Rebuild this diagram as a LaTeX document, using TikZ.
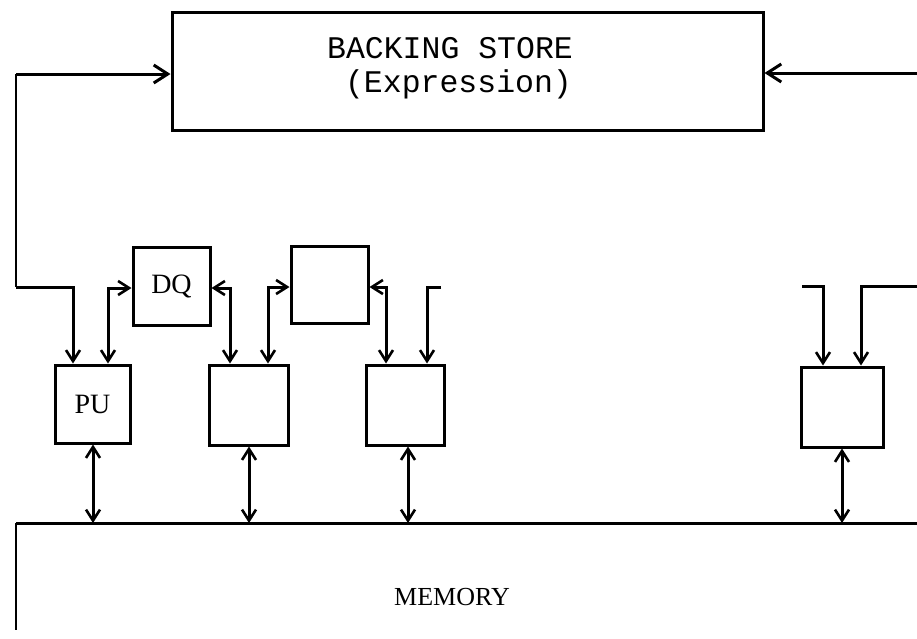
\documentclass[tikz,border=0pt]{standalone}
\usepackage{fontspec}
\setmainfont{Liberation Serif}
\newfontfamily\twfont{Liberation Mono}
\usetikzlibrary{arrows.meta,calc}
\tikzset{
  wire/.style={line width=3pt, line join=miter},
  thinwire/.style={line width=2pt},
  barb/.style={arrows={-Straight Barb[length=11pt,width=14pt,line width=2.6pt]}},
  dbarb/.style={arrows={Straight Barb[length=11pt,width=14pt,line width=2.6pt]-Straight Barb[length=11pt,width=14pt,line width=2.6pt]}},
  bigbarb/.style={arrows={-Straight Barb[length=14pt,width=18pt,line width=3pt]}},
  unit/.style={draw, line width=3pt, minimum width=#1, inner sep=0pt},
  lbl/.style={font=\fontsize{28}{28}\selectfont},
  tw/.style={font=\twfont\fontsize{31.5}{31.5}\selectfont, inner sep=0pt, anchor=base}
}
\begin{document}
\begin{tikzpicture}[x=1pt,y=-1pt]
\useasboundingbox (0,0) rectangle (917,638);
% boxes
\node[draw, line width=3pt, minimum width=591pt, minimum height=118pt, inner sep=0pt] (bs) at (467.5,71) {};
\node[unit=77pt, minimum height=78pt, lbl] (dq) at (171.5,286) {DQ};
\node[unit=77pt, minimum height=77pt] (t3) at (329.5,284.5) {};
\node[unit=75pt, minimum height=78pt, lbl] (pu) at (92.5,404) {PU};
\node[unit=79pt, minimum height=80pt] (b2) at (248.5,405) {};
\node[unit=78pt, minimum height=80pt] (b4) at (405,405) {};
\node[unit=82pt, minimum height=80pt] (b5) at (842,407) {};
% texts
\node[tw] (t1) at (450,58) {BACKING STORE};
\node[tw] (t2) at (458.5,92) {(Expression)};
\node[font=\fontsize{26}{26}\selectfont, anchor=base] (mem) at (452,605) {MEMORY};
% bus and memory
\coordinate (busL) at (16,523);
\coordinate (busR) at (917,523);
\coordinate (memB) at (16,630);
\draw[wire] (busL) -- (busR);
\draw[thinwire] (busL) -- (memB);
% left feedback path
\coordinate (lc) at (16,287);
\coordinate (lt) at (16,74);
\coordinate (pa) at (73,287);
\draw[thinwire] (lt) -- (lc);
\draw[wire, bigbarb] (lt) -- (lt -| bs.west);
\draw[wire, barb] (lc) -- (pa) -- (pa |- pu.north);
% right top
\coordinate (rt) at (917,73);
\draw[wire, bigbarb] (rt) -- (rt -| bs.east);
% PU <-> DQ
\coordinate (c2) at (108,288);
\draw[wire, dbarb] (c2 |- pu.north) -- (c2) -- (c2 -| dq.west);
% DQ <-> b2
\coordinate (c3) at (230,288);
\draw[wire, dbarb] (c3 -| dq.east) -- (c3) -- (c3 |- b2.north);
% t3 <-> b2
\coordinate (c4) at (268,287);
\draw[wire, dbarb] (c4 |- b2.north) -- (c4) -- (c4 -| t3.west);
% t3 <-> b4
\coordinate (c5) at (386,287);
\draw[wire, dbarb] (c5 -| t3.east) -- (c5) -- (c5 |- b4.north);
% b4 stub
\coordinate (s4) at (441,287);
\coordinate (c6) at (427,287);
\draw[wire, barb] (s4) -- (c6) -- (c6 |- b4.north);
% b5 stubs
\coordinate (s5) at (802,286);
\coordinate (c7) at (823,286);
\draw[wire, barb] (s5) -- (c7) -- (c7 |- b5.north);
\coordinate (s6) at (917,286);
\coordinate (c8) at (861,286);
\draw[wire, barb] (s6) -- (c8) -- (c8 |- b5.north);
% bus arrows
\coordinate (m1) at (93,523);
\coordinate (m2) at (249,523);
\coordinate (m3) at (408,523);
\coordinate (m4) at (842,523);
\draw[wire, dbarb] (m1 |- pu.south) -- (m1);
\draw[wire, dbarb] (m2 |- b2.south) -- (m2);
\draw[wire, dbarb] (m3 |- b4.south) -- (m3);
\draw[wire, dbarb] (m4 |- b5.south) -- (m4);
\end{tikzpicture}
\end{document}
